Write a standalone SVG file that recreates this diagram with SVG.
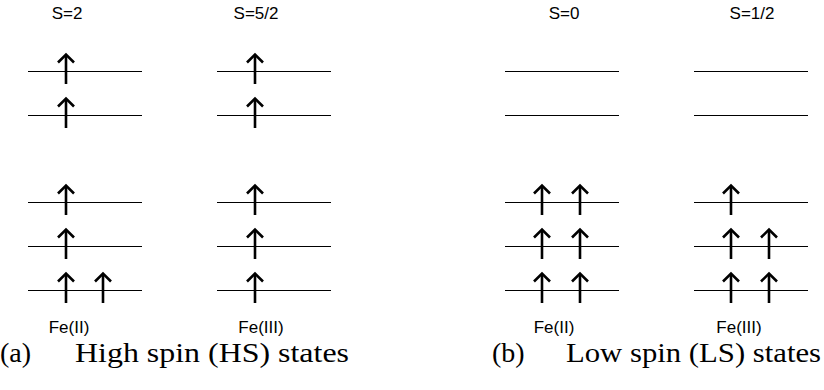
<svg xmlns="http://www.w3.org/2000/svg" width="824" height="390" viewBox="0 0 824 390">
  <defs>
    <!-- spin-up arrow: shaft from level+13 up to level-16, chevron head -->
    <g id="up">
      <line x1="0" y1="13" x2="0" y2="-15" class="shaft"/>
      <polyline points="-8,-8.5 0,-16.5 8,-8.5" class="head"/>
    </g>
    <!-- energy level line, 114 px long, on the half pixel so it stays crisp -->
    <line id="lvl" x1="0" y1="0.5" x2="114" y2="0.5" class="level"/>
  </defs>
  <style>
    .level { stroke: #000; stroke-width: 1; shape-rendering: crispEdges; }
    .shaft { stroke: #000; stroke-width: 2.6; }
    .head { fill: none; stroke: #000; stroke-width: 2.6; stroke-linejoin: miter; }
    .lbl { font-family: "Liberation Sans", Arial, sans-serif; font-size: 17px; fill: #000; text-anchor: middle; }
    .cap { font-family: "Liberation Serif", "Times New Roman", serif; font-size: 28px; fill: #000; }
  </style>
  <rect width="824" height="390" fill="#fff"/>

  <!-- (a) high spin, Fe(II) -->
  <g id="hs-fe2">
    <text class="lbl" x="67" y="19">S=2</text>
    <use href="#lvl" x="28" y="71"/>
    <use href="#lvl" x="28" y="115"/>
    <use href="#lvl" x="28" y="202"/>
    <use href="#lvl" x="28" y="246"/>
    <use href="#lvl" x="28" y="290"/>
    <use href="#up" x="66" y="71"/>
    <use href="#up" x="66" y="115"/>
    <use href="#up" x="66" y="202"/>
    <use href="#up" x="66" y="246"/>
    <use href="#up" x="66" y="290"/>
    <use href="#up" x="103" y="290"/>
    <text class="lbl" x="69" y="333">Fe(II)</text>
  </g>

  <!-- (a) high spin, Fe(III) -->
  <g id="hs-fe3">
    <text class="lbl" x="256" y="19">S=5/2</text>
    <use href="#lvl" x="217" y="71"/>
    <use href="#lvl" x="217" y="115"/>
    <use href="#lvl" x="217" y="202"/>
    <use href="#lvl" x="217" y="246"/>
    <use href="#lvl" x="217" y="290"/>
    <use href="#up" x="255" y="71"/>
    <use href="#up" x="255" y="115"/>
    <use href="#up" x="255" y="202"/>
    <use href="#up" x="255" y="246"/>
    <use href="#up" x="255" y="290"/>
    <text class="lbl" x="261" y="333">Fe(III)</text>
  </g>

  <!-- (b) low spin, Fe(II) -->
  <g id="ls-fe2">
    <text class="lbl" x="564" y="19">S=0</text>
    <use href="#lvl" x="505" y="71"/>
    <use href="#lvl" x="505" y="115"/>
    <use href="#lvl" x="505" y="202"/>
    <use href="#lvl" x="505" y="246"/>
    <use href="#lvl" x="505" y="290"/>
    <use href="#up" x="542" y="202"/>
    <use href="#up" x="580" y="202"/>
    <use href="#up" x="542" y="246"/>
    <use href="#up" x="580" y="246"/>
    <use href="#up" x="542" y="290"/>
    <use href="#up" x="580" y="290"/>
    <text class="lbl" x="554" y="333">Fe(II)</text>
  </g>

  <!-- (b) low spin, Fe(III) -->
  <g id="ls-fe3">
    <text class="lbl" x="752" y="19">S=1/2</text>
    <use href="#lvl" x="694" y="71"/>
    <use href="#lvl" x="694" y="115"/>
    <use href="#lvl" x="694" y="202"/>
    <use href="#lvl" x="694" y="246"/>
    <use href="#lvl" x="694" y="290"/>
    <use href="#up" x="731" y="202"/>
    <use href="#up" x="731" y="246"/>
    <use href="#up" x="769" y="246"/>
    <use href="#up" x="731" y="290"/>
    <use href="#up" x="769" y="290"/>
    <text class="lbl" x="739" y="333">Fe(III)</text>
  </g>

  <!-- sub-captions -->
  <g id="captions">
    <text class="cap" x="0" y="362">(a)</text>
    <text class="cap" x="75" y="362" textLength="274" lengthAdjust="spacingAndGlyphs">High spin (HS) states</text>
    <text class="cap" x="492" y="362">(b)</text>
    <text class="cap" x="566" y="362" textLength="255" lengthAdjust="spacingAndGlyphs">Low spin (LS) states</text>
  </g>
  <g id="connectors"/>
</svg>
